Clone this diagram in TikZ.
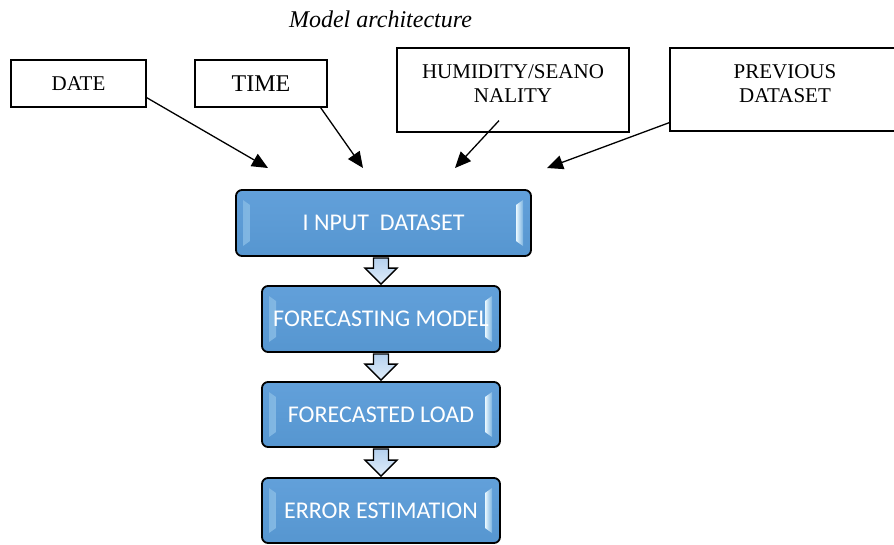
\documentclass[tikz,border=0pt]{standalone}
\usepackage{fontspec}
\setmainfont{Liberation Serif}
\newfontfamily\calib{Carlito}
\usetikzlibrary{arrows.meta,calc}
\definecolor{boxblue}{RGB}{91,155,213}
\definecolor{boxtop}{RGB}{98,160,218}
\definecolor{boxbot}{RGB}{86,150,208}
\definecolor{bevlight}{RGB}{200,236,253}
\definecolor{arrtop}{RGB}{180,208,238}
\definecolor{arrbot}{RGB}{225,238,251}
\tikzset{
  inbox/.style={draw=black, line width=1.2pt, minimum height=47pt, inner sep=0pt,
    font=\fontsize{21}{24}\selectfont, align=center},
  pointer/.style={line width=1.3pt, -{Triangle[length=16pt,width=14pt]}},
  bevels/.style={path picture={
    \shade[sharp corners, left color=boxblue!70!bevlight, middle color=bevlight, right color=white!60!bevlight]
      ([xshift=7pt,yshift=-10pt]path picture bounding box.north west) --
      ([xshift=14pt,yshift=-15pt]path picture bounding box.north west) --
      ([xshift=14pt,yshift=15pt]path picture bounding box.south west) --
      ([xshift=7pt,yshift=10pt]path picture bounding box.south west) -- cycle;
    \shade[sharp corners, left color=white!60!bevlight, middle color=bevlight, right color=boxblue!70!bevlight]
      ([xshift=-8pt,yshift=-10pt]path picture bounding box.north east) --
      ([xshift=-15pt,yshift=-15pt]path picture bounding box.north east) --
      ([xshift=-15pt,yshift=15pt]path picture bounding box.south east) --
      ([xshift=-8pt,yshift=10pt]path picture bounding box.south east) -- cycle;
  }},
  bluebox/.style={draw=black, line width=1.8pt, rounded corners=6pt,
    top color=boxtop, bottom color=boxbot, minimum height=65pt, inner sep=0pt,
    text=white, font=\calib\fontsize{24}{28}\selectfont, bevels},
  blockarrow/.style={draw=black, line width=1.3pt, line join=miter,
    top color=arrtop, bottom color=arrbot},
}
\newcommand\blockarr[2]{%
  \path[blockarrow] let \p1=(#1.south), \p2=(#2.north) in
    (\x2-7.5pt,\y1-1pt) -- (\x2+7.5pt,\y1-1pt) -- (\x2+7.5pt,\y2+17pt) --
    (\x2+16pt,\y2+17pt) -- (\x2,\y2+1pt) -- (\x2-16pt,\y2+17pt) --
    (\x2-7.5pt,\y2+17pt) -- cycle;}
\begin{document}
\begin{tikzpicture}[x=1pt,y=-1pt]
  \fill[white] (0,0) rectangle (894,544);
  \useasboundingbox (0,0) rectangle (894,544);

  \node[anchor=base, font=\fontsize{24}{28}\selectfont\itshape] (title) at (380.5,27) {Model architecture};

  \node[inbox, minimum width=135pt] (date) at (78.5,83.5) {DATE};
  \node[inbox, minimum width=132pt, font=\fontsize{24}{28}\selectfont] (time) at (261,83.5) {TIME};
  \node[inbox, minimum width=232pt, minimum height=84pt, text depth=12pt] (hum) at (513,90) {HUMIDITY/SEANO\\NALITY};
  \node[inbox, minimum width=230pt, minimum height=83pt, text depth=12pt] (prev) at (785,89.5) {PREVIOUS\\DATASET};

  \coordinate (tipDate) at (268,168);
  \coordinate (tipTime) at (363,168);
  \coordinate (tipHum) at (455,168);
  \coordinate (tipPrev) at (547,168);

  \draw[pointer] ([yshift=10pt]date.south east) -- (tipDate);
  \draw[pointer] ([xshift=-7pt]time.south east) -- (tipTime);
  \draw[pointer] ([xshift=-14pt,yshift=12pt]hum.south) -- (tipHum);
  \draw[pointer] ([yshift=9pt]prev.south west) -- (tipPrev);

  \node[bluebox, minimum width=295pt, minimum height=66pt] (input) at (383.5,223) {I NPUT\ \ DATASET};
  \node[bluebox, minimum width=238pt, minimum height=66pt] (model) at (381,319) {FORECASTING MODEL};
  \node[bluebox, minimum width=238pt] (load) at (381,414.5) {FORECASTED LOAD};
  \node[bluebox, minimum width=238pt] (error) at (381,510.5) {ERROR ESTIMATION};

  \blockarr{input}{model}
  \blockarr{model}{load}
  \blockarr{load}{error}
\end{tikzpicture}
\end{document}
